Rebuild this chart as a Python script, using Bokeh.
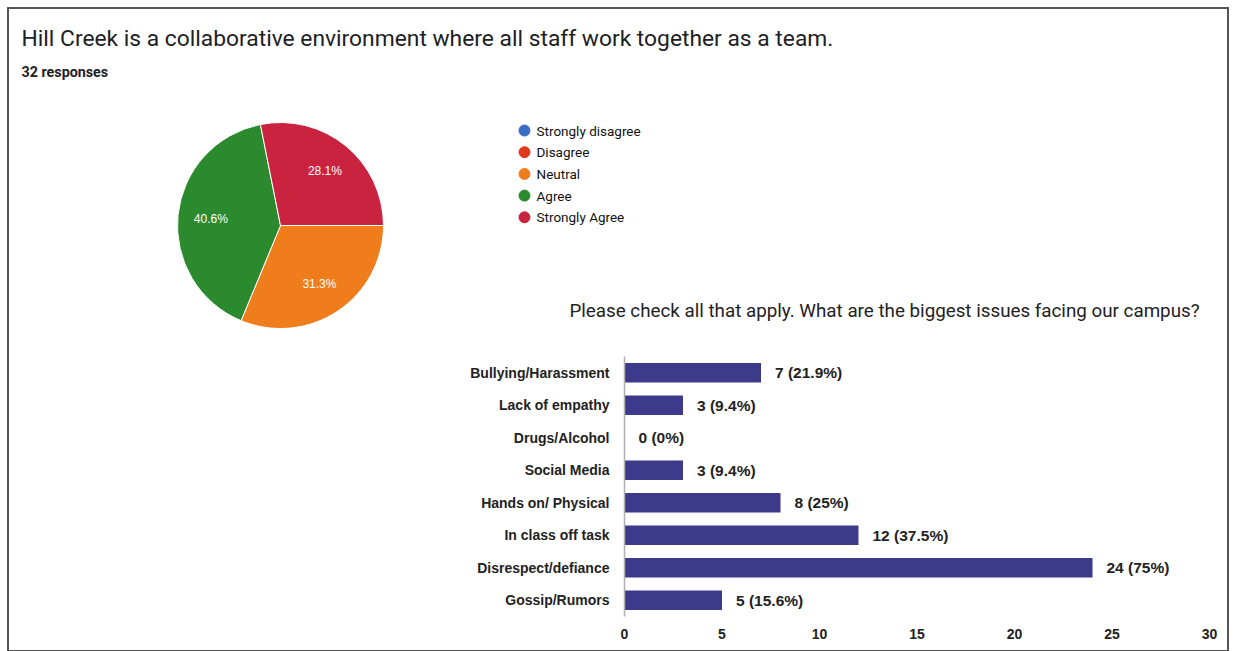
import numpy as np
from bokeh.plotting import figure
from bokeh.models import Range1d, FactorRange, ColumnDataSource, FixedTicker
from bokeh.layouts import column, row
from bokeh.core.properties import value
from bokeh.embed import file_html
from bokeh.resources import INLINE

# ---------------- data ----------------
title_text = "Hill Creek is a collaborative environment where all staff work together as a team."
responses_text = "32 responses"
pie_labels = ["Strongly disagree", "Disagree", "Neutral", "Agree", "Strongly Agree"]
pie_counts = [0, 0, 10, 13, 9]
pie_colors = ["#3a6bc4", "#e0391c", "#f07d1c", "#2b8a2e", "#c9233f"]

bar_title = "Please check all that apply. What are the biggest issues facing our campus?"
bar_categories = ["Bullying/Harassment", "Lack of empathy", "Drugs/Alcohol", "Social Media",
                  "Hands on/ Physical", "In class off task", "Disrespect/defiance", "Gossip/Rumors"]
bar_counts = [7, 3, 0, 3, 8, 12, 24, 5]
bar_total = 32
x_ticks = [0, 5, 10, 15, 20, 25, 30]
bar_color = "#3d3a8c"

TXT = "#222222"
ARIAL = value("Liberation Sans")
ROBOTO = value("Roboto")


def pct1(f):
    # round half up to one decimal
    return np.floor(f * 1000 + 0.5) / 10


def blank(w, h, xr, yr):
    p = figure(width=w, height=h, x_range=xr, y_range=yr, output_backend="svg",
               toolbar_location=None, min_border=0)
    p.axis.visible = False
    p.grid.visible = False
    p.outline_line_color = None
    p.frame_align = False
    return p

# ---------------- header ----------------
top = blank(1218, 90, Range1d(0, 1218), Range1d(90, 0))
top.text(x=[12], y=[29], text=[title_text], text_font=ROBOTO, text_font_size="22.8px",
         text_color="#202124", text_baseline="middle")
top.text(x=[12], y=[62], text=[responses_text], text_font=ROBOTO, text_font_size="14.3px",
         text_color="#202124", text_baseline="middle", text_font_style="bold")

# ---------------- pie ----------------
PW, PH = 445, 551
pie = blank(PW, PH, Range1d(0, PW), Range1d(0, PH))
cx, cy, R = 271, PH - 126, 103
counts = np.array(pie_counts, dtype=float)
frac = counts / counts.sum()
cum = np.concatenate([[0], np.cumsum(frac)])
start = -cum[:-1] * 2 * np.pi
end = -cum[1:] * 2 * np.pi
mid = (start + end) / 2
keep = counts > 0
src = ColumnDataSource(dict(
    start=start[keep], end=end[keep], color=np.array(pie_colors)[keep],
    lx=cx + 0.68 * R * np.cos(mid[keep]), ly=cy + 0.68 * R * np.sin(mid[keep]),
    lab=[f"{pct1(f):.1f}%" for f in frac[keep]],
))
pie.wedge(x=cx, y=cy, radius=R, start_angle="start", end_angle="end", direction="clock",
          fill_color="color", line_color="white", line_width=1, source=src)
pie.text(x="lx", y="ly", text="lab", source=src, text_color="white", text_font=ARIAL,
         text_font_size="12px", text_align="center", text_baseline="middle")

# ---------------- legend + bar title ----------------
LW, LH = 773, 225
leg = blank(LW, LH, Range1d(0, LW), Range1d(LH, 0))
lsrc = ColumnDataSource(dict(
    x=[70] * len(pie_labels), tx=[82] * len(pie_labels),
    y=[31 + i * 21.7 for i in range(len(pie_labels))],
    lab=pie_labels, color=pie_colors,
))
leg.scatter(x="x", y="y", size=11, marker="circle", fill_color="color", line_color="color", source=lsrc)
leg.text(x="tx", y="y", text="lab", source=lsrc, text_font=ROBOTO, text_font_size="13.5px",
         text_color="#111111", text_baseline="middle")
leg.text(x=[430], y=[211], text=[bar_title], text_font=ROBOTO, text_font_size="18.8px",
         text_color=TXT, text_baseline="middle", text_align="center")

# ---------------- bar chart ----------------
bar = figure(width=773, height=326, x_range=Range1d(0, 30),
             y_range=FactorRange(factors=bar_categories[::-1]),
             output_backend="svg", toolbar_location=None,
             min_border_left=170, min_border_right=18, min_border_top=32, min_border_bottom=34)
bar.frame_align = False
bar.outline_line_color = None
bar.grid.visible = False
bsrc = ColumnDataSource(dict(
    cat=bar_categories, v=bar_counts,
    lab=[f"{v} ({round(v / bar_total * 100, 1):g}%)" for v in bar_counts],
))
bar.hbar(y="cat", right="v", left=0, height=0.6, fill_color=bar_color, line_color=None, source=bsrc)
bar.text(x="v", y="cat", text="lab", source=bsrc, x_offset=14, text_baseline="middle",
         text_font=ARIAL, text_font_size="15.5px", text_font_style="bold", text_color=TXT)

xa = bar.xaxis[0]
xa.ticker = FixedTicker(ticks=x_ticks)
xa.axis_line_color = None
xa.major_tick_line_color = None
xa.minor_tick_line_color = None
xa.major_tick_out = 0
xa.minor_tick_out = 0
xa.major_label_standoff = 12
xa.major_label_text_font = "Liberation Sans"
xa.major_label_text_font_size = "14px"
xa.major_label_text_font_style = "bold"
xa.major_label_text_color = TXT

ya = bar.yaxis[0]
ya.axis_line_color = "#b0b0b0"
ya.axis_line_width = 1.5
ya.major_tick_line_color = None
ya.minor_tick_line_color = None
ya.major_tick_out = 0
ya.major_label_standoff = 15
ya.major_label_text_font = "Liberation Sans"
ya.major_label_text_font_size = "14px"
ya.major_label_text_font_style = "bold"
ya.major_label_text_color = TXT

layout = column(top, row(pie, column(leg, bar)), margin=(7, 0, 0, 7),
                styles={"border": "2px solid #555555"})

open("out.html", "w").write(file_html(layout, INLINE))
